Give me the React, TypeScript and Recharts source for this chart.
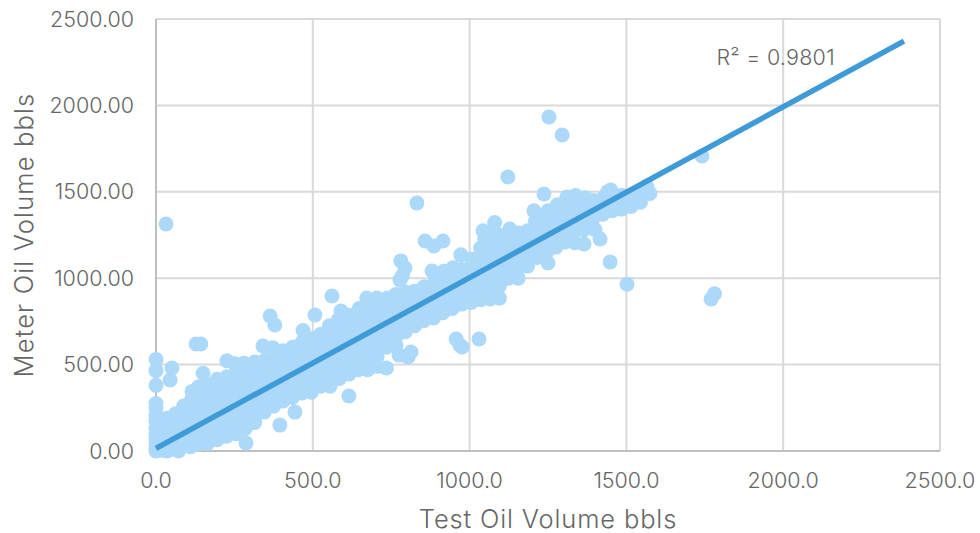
import React from "react";
import { ScatterChart, Scatter, XAxis, YAxis, CartesianGrid, Label, ReferenceDot } from "recharts";

const xTicks = [0, 500, 1000, 1500, 2000, 2500];
const yTicks = [0, 500, 1000, 1500, 2000, 2500];
const xTitle = "Test Oil Volume bbls";
const yTitle = "Meter Oil Volume bbls";
const fitNote = "R² = 0.9801";

// [test volume, meter volume]
const lowVolumeWells: number[][] = [
  [0,0],[0,15],[0,40],[0,70],[0,95],[0,130],[0,175],[0,205],[0,250],[0,275],[0,380],[0,465],[0,530],
  [15,5],[15,45],[15,85],[15,125],[15,165],[35,0],[35,30],[35,70],[35,110],[35,150],[35,190],
  [51,480],[45,411],[60,10],[60,60],[60,100],[60,140],[60,185],[62,215],[72,0],
  [85,30],[85,75],[85,120],[85,165],[85,215],[88,260],[110,25],[110,70],[112,115],[110,160],[108,205],[110,250],[112,290],[115,345],
  [128,619],[143,619],[135,40],[135,85],[135,135],[137,180],[135,230],[135,275],[133,320],[135,370],[150,450],
  [165,45],[165,100],[167,150],[165,195],[165,245],[168,290],[165,340],[165,385],
  [195,65],[195,110],[195,160],[197,215],[195,265],[195,310],[198,360],[195,415],
  [225,85],[225,135],[226,190],[225,240],[225,290],[228,345],[225,390],[226,430],[226,522],
  [255,100],[255,155],[255,210],[257,260],[255,310],[255,360],[256,410],[258,475],[252,505],
  [287,46],[285,130],[285,185],[285,235],[287,285],[285,340],[285,390],[285,440],[288,490],[280,508],
  [315,165],[315,215],[315,265],[317,315],[315,365],[315,415],[317,465],[315,515],
  [345,225],[345,275],[345,325],[347,375],[345,425],[345,475],[348,525],[341,608],[364,781],[379,729],[395,150],
  [375,260],[375,310],[375,360],[377,410],[375,460],[375,510],[378,560],[372,598],
  [405,290],[405,340],[406,390],[405,440],[405,490],[407,540],[405,580],[443,225],
];

const midVolumeWells: number[][] = [
  [435,310],[435,360],[436,410],[435,460],[437,510],[435,560],[436,600],
  [465,335],[465,385],[467,435],[465,485],[465,535],[468,585],[466,630],[469,697],
  [495,340],[495,395],[497,445],[495,495],[495,545],[498,595],[495,650],[507,787],
  [525,375],[525,425],[525,475],[527,525],[525,575],[527,625],[525,675],[561,897],
  [555,375],[555,430],[556,480],[555,530],[558,580],[555,630],[556,680],[553,725],[615,318],
  [585,420],[585,470],[587,520],[585,570],[585,620],[588,670],[585,720],[582,760],[590,810],
  [615,445],[615,495],[615,545],[617,595],[615,645],[615,695],[618,745],[615,785],
  [645,470],[645,520],[647,570],[645,620],[645,670],[646,720],[645,770],[648,825],
  [675,470],[675,530],[677,580],[675,630],[675,680],[676,730],[675,780],[673,830],[672,885],
  [705,490],[705,545],[705,600],[707,650],[705,700],[705,750],[708,800],[705,850],[704,885],
  [735,480],[735,600],[737,650],[735,700],[735,750],[736,800],[735,850],[738,885],
  [765,610],[765,660],[767,710],[765,760],[765,810],[766,860],[765,905],[775,555],[804,544],[813,573],
  [795,690],[795,720],[797,770],[795,820],[795,870],[795,920],[781,1100],[794,1059],[778,990],[786,1015],
  [825,725],[825,775],[827,825],[825,875],[825,925],[832,1435],[858,1215],[886,1186],[915,1215],[880,1042],
  [855,755],[855,805],[857,855],[855,905],[855,950],[885,770],[885,820],[887,870],[885,920],[885,965],
  [915,800],[915,850],[917,900],[915,950],[915,1000],[918,1040],[957,648],[969,613],[976,602],
  [945,825],[945,875],[947,925],[945,975],[945,1030],[947,1060],[975,850],[975,900],[977,950],[975,1000],[975,1050],[972,1135],
];

const highVolumeWells: number[][] = [
  [1005,860],[1005,910],[1007,960],[1005,1010],[1005,1060],[1007,1110],[1030,648],
  [1035,875],[1035,925],[1037,975],[1035,1025],[1035,1075],[1038,1125],[1035,1175],[1043,1275],[1048,1230],
  [1065,880],[1065,940],[1067,990],[1065,1040],[1065,1090],[1066,1140],[1065,1190],[1080,1322],[1075,1265],
  [1095,885],[1095,955],[1097,1005],[1095,1055],[1095,1105],[1098,1155],[1095,1205],[1092,1250],
  [1125,1000],[1125,1050],[1127,1100],[1125,1150],[1125,1200],[1128,1285],[1122,1586],[1130,1245],
  [1155,1000],[1155,1060],[1157,1110],[1155,1160],[1155,1210],[1157,1262],
  [1185,1070],[1185,1120],[1187,1170],[1185,1220],[1185,1275],[1205,1390],[1210,1330],
  [1215,1120],[1215,1170],[1217,1220],[1215,1270],[1215,1320],[1237,1487],[1253,1933],[1295,1829],[1250,1088],
  [1245,1150],[1245,1200],[1247,1250],[1245,1300],[1245,1350],[1250,1390],
  [1275,1180],[1275,1235],[1277,1285],[1275,1335],[1275,1385],[1280,1425],
  [1305,1210],[1305,1260],[1307,1310],[1305,1360],[1305,1410],[1310,1470],
  [1335,1205],[1335,1270],[1337,1320],[1335,1370],[1335,1420],[1338,1478],
  [1365,1198],[1365,1280],[1367,1340],[1365,1390],[1365,1440],[1370,1465],
  [1395,1290],[1395,1350],[1397,1400],[1395,1450],[1400,1280],[1416,1227],
  [1425,1370],[1425,1420],[1427,1465],[1448,1094],[1450,1510],[1440,1500],
  [1455,1390],[1455,1440],[1457,1485],[1485,1400],[1487,1440],[1485,1480],
  [1515,1415],[1517,1470],[1502,965],[1545,1440],[1547,1490],[1565,1530],[1575,1490],
];

const farWells: number[][] = [
  [32,1314],[1741,1707],[1770,880],[1781,910],
];

const trendTest = [0, 2385];
const trendMeter = [15, 2372];

const toPoints = (rows: number[][]) => rows.map(([test, meter]) => ({ test, meter }));
const wellPoints = toPoints([...lowVolumeWells, ...midVolumeWells, ...highVolumeWells, ...farWells]);
const trendPoints = trendTest.map((test, i) => ({ test, meter: trendMeter[i] }));

const FONT = "Inter";
const INK = "#666666";

const Dot = (props: any) => <circle cx={props.cx} cy={props.cy} r={7.5} fill="#acd8fa" />;
const NoDot = () => null;

export default function App() {
  return (
    <div style={{ position: "absolute", left: 0, top: 0, width: 980, height: 533, background: "#fff" }}>
      <ScatterChart width={980} height={533} margin={{ top: 19, right: 40, bottom: 0, left: 0 }}>
        <CartesianGrid stroke="#d9d9d9" strokeWidth={2} horizontalValues={yTicks} verticalValues={xTicks} />
        <XAxis
          type="number"
          dataKey="test"
          domain={[0, 2500]}
          ticks={xTicks}
          height={82}
          tickLine={false}
          axisLine={{ stroke: "#bfbfbf", strokeWidth: 2 }}
          tickMargin={16}
          interval={0}
          tickFormatter={(v: number) => v.toFixed(1)}
          tick={{ fill: INK, fontFamily: FONT, fontSize: 21.5, fontWeight: 300 }}
        >
          <Label value={xTitle} position="insideBottom" offset={5} fill={INK} fontFamily={FONT} fontSize={25.5} fontWeight={300} letterSpacing={0.85} />
        </XAxis>
        <YAxis
          type="number"
          dataKey="meter"
          domain={[0, 2500]}
          ticks={yTicks}
          width={156}
          tickLine={false}
          axisLine={{ stroke: "#bfbfbf", strokeWidth: 2 }}
          tickMargin={16}
          interval={0}
          tickFormatter={(v: number) => v.toFixed(2)}
          tick={{ fill: INK, fontFamily: FONT, fontSize: 21.5, fontWeight: 300 }}
        >
          <Label value={yTitle} angle={-90} position="insideLeft" offset={24} style={{ textAnchor: "middle" }} fill={INK} fontFamily={FONT} fontSize={25.5} fontWeight={300} letterSpacing={1.15} />
        </YAxis>
        <Scatter data={wellPoints} shape={Dot} isAnimationActive={false} />
        <Scatter
          data={trendPoints}
          shape={NoDot}
          line={{ stroke: "#3f9bd8", strokeWidth: 5.5 }}
          isAnimationActive={false}
        />
        <ReferenceDot
          x={1976}
          y={2280}
          r={0}
          fill="none"
          stroke="none"
          label={{ value: fitNote, position: "center", fill: INK, fontFamily: FONT, fontSize: 21.5, fontWeight: 300, letterSpacing: 0.25 }}
        />
      </ScatterChart>
    </div>
  );
}
